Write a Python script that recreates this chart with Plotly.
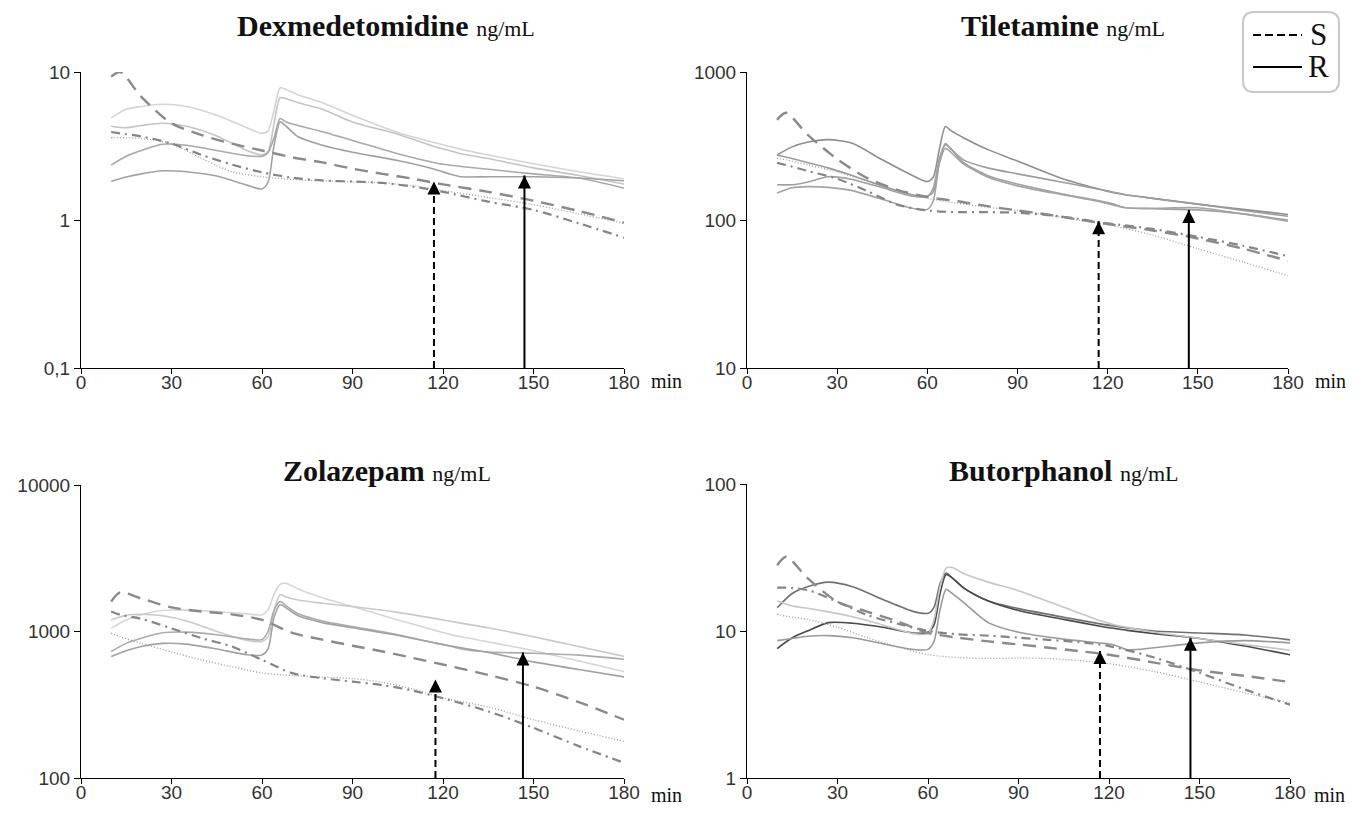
import numpy as np
import plotly.graph_objects as go

W, H = 1372, 813
BODY = 8  # page body margin in the browser

# ---------------- data ----------------
T_S = [10, 13, 20, 30, 40, 50, 60, 70, 80, 90, 100, 110, 120, 135, 150, 165, 180]
T_R = [10, 15, 20, 27, 35, 45, 55, 60, 62, 64, 66, 68, 72, 80, 90, 105, 118, 122, 126, 135, 150, 165, 180]

# Dexmedetomidine
dex_dashed = [9.3, 10.0, 6.8, 4.5, 3.75, 3.28, 2.95, 2.65, 2.45, 2.22, 2.05, 1.9, 1.74, 1.55, 1.35, 1.15, 0.96]
dex_dotted = [3.6, 3.6, 3.55, 3.28, 2.6, 2.12, 1.96, 1.88, 1.84, 1.81, 1.78, 1.7, 1.58, 1.42, 1.27, 1.1, 0.95]
dex_dashdot = [3.93, 3.85, 3.67, 3.28, 2.75, 2.37, 2.1, 1.93, 1.85, 1.82, 1.78, 1.68, 1.55, 1.33, 1.17, 0.95, 0.76]
dex_r1 = [4.9, 5.6, 5.85, 6.05, 5.85, 5.1, 4.2, 3.85, 4.0, 5.5, 7.8, 7.6, 7.0, 6.2, 5.1, 3.9, 3.3, 3.15, 3.0, 2.75, 2.4, 2.12, 1.9]
dex_r2 = [4.3, 4.2, 4.35, 4.5, 4.3, 3.7, 2.95, 2.75, 2.9, 4.5, 6.7, 6.6, 6.2, 5.6, 4.6, 3.8, 3.1, 2.95, 2.8, 2.6, 2.25, 2.0, 1.75]
dex_r3 = [2.35, 2.7, 2.95, 3.25, 3.2, 2.95, 2.72, 2.7, 2.85, 3.6, 4.85, 4.6, 4.35, 3.95, 3.45, 2.8, 2.42, 2.35, 2.3, 2.2, 2.05, 1.92, 1.64]
dex_r4 = [1.82, 1.95, 2.05, 2.15, 2.12, 1.98, 1.72, 1.62, 1.8, 3.2, 4.6, 4.3, 3.65, 3.2, 2.87, 2.52, 2.18, 2.05, 1.96, 1.96, 1.96, 1.92, 1.84]

# Tiletamine
til_dashed = [475, 530, 380, 258, 192, 160, 143, 134, 124, 116, 109, 101, 94, 85, 75, 64, 53]
til_dotted = [261, 255, 236, 212, 182, 158, 140, 130, 122, 116, 108, 100, 93, 79, 64, 52, 42]
til_dashdot = [243, 235, 215, 190, 157, 127, 116, 113, 113, 112, 108, 102, 95, 87, 77, 67, 57]
til_r1 = [275, 312, 335, 349, 330, 255, 200, 182, 195, 300, 428, 400, 360, 300, 250, 190, 160, 153, 148, 140, 128, 118, 109]
til_r2 = [275, 260, 245, 225, 200, 170, 148, 145, 155, 250, 328, 300, 255, 225, 205, 180, 160, 154, 148, 140, 128, 116, 106]
til_r3 = [173, 173, 180, 196, 188, 165, 145, 144, 165, 260, 322, 300, 245, 200, 175, 150, 134, 128, 121, 119, 117, 110, 100]
til_r4 = [152, 165, 168, 166, 158, 138, 120, 118, 135, 240, 305, 285, 240, 195, 170, 148, 132, 126, 121, 120, 121, 110, 98]

# Zolazepam
zol_dashed = [1600, 1850, 1680, 1460, 1370, 1310, 1200, 980, 880, 800, 730, 660, 595, 505, 420, 330, 250]
zol_dotted = [975, 920, 830, 725, 640, 575, 522, 500, 488, 477, 450, 405, 352, 305, 250, 210, 178]
zol_dashdot = [1370, 1300, 1220, 1050, 900, 790, 640, 520, 480, 455, 430, 395, 350, 285, 220, 165, 127]
zol_r1 = [1055, 1200, 1300, 1390, 1400, 1370, 1320, 1300, 1400, 1800, 2100, 2130, 1950, 1700, 1480, 1200, 1010, 960, 920, 850, 740, 630, 533]
zol_r2 = [1200, 1290, 1310, 1280, 1180, 1000, 870, 855, 920, 1400, 1780, 1720, 1640, 1560, 1480, 1350, 1220, 1180, 1140, 1060, 920, 790, 676]
zol_r3 = [731, 830, 900, 980, 990, 950, 890, 880, 1000, 1400, 1600, 1500, 1320, 1180, 1080, 950, 830, 800, 760, 725, 710, 690, 646]
zol_r4 = [676, 740, 790, 830, 820, 760, 695, 690, 760, 1250, 1520, 1450, 1280, 1150, 1060, 940, 830, 800, 775, 720, 620, 550, 490]

# Butorphanol
but_dashed = [28, 32, 23, 15.8, 13.5, 11.6, 9.7, 9.0, 8.5, 8.1, 7.7, 7.3, 6.9, 6.1, 5.4, 4.95, 4.5]
but_dotted = [13, 12.6, 12.0, 10.6, 9.0, 7.8, 6.9, 6.6, 6.5, 6.55, 6.5, 6.3, 6.0, 5.3, 4.5, 3.8, 3.23]
but_dashdot = [19.7, 19.7, 19.0, 15.8, 12.8, 11.2, 10.0, 9.5, 9.3, 9.0, 8.7, 8.4, 7.9, 6.6, 5.2, 4.0, 3.15]
but_r1 = [14.4, 18, 20, 21.5, 20, 16.4, 13.6, 13.2, 14.5, 21, 24.8, 23, 19.5, 16, 14.2, 12.4, 11.1, 10.8, 10.5, 10.0, 9.7, 9.4, 8.7]
but_r2 = [7.6, 9.0, 10.0, 11.4, 11.3, 10.6, 9.7, 9.8, 11.0, 18, 24.2, 23, 19.5, 16, 13.8, 12.0, 10.7, 10.4, 10.1, 9.6, 8.9, 7.9, 6.9]
but_r3 = [16, 14.8, 14.3, 13.5, 12.5, 11.0, 9.6, 9.6, 12, 20, 26.8, 27, 24.5, 21.5, 18.8, 14.5, 11.6, 11.0, 10.6, 9.8, 8.9, 8.1, 7.4]
but_r4 = [8.6, 8.9, 9.2, 9.3, 9.0, 8.2, 7.5, 7.5, 8.5, 14, 19.2, 18, 15.5, 11.4, 9.8, 8.8, 8.25, 8.0, 7.45, 7.7, 8.3, 8.6, 8.3]

# arrows (time, tip value) : S (dashed) and R (solid)
ARROW_S_T = [117, 117, 117.5, 117]
ARROW_S_TIP = [1.82, 98, 470, 7.3]
ARROW_R_T = [147, 147, 146.5, 147]
ARROW_R_TIP = [2.0, 117, 720, 9.0]

TITLES = ["Dexmedetomidine", "Tiletamine", "Zolazepam", "Butorphanol"]
Y_TICKVALS = [[0.1, 1, 10], [10, 100, 1000], [100, 1000, 10000], [1, 10, 100]]
Y_TICKTEXT = [["0,1", "1", "10"], ["10", "100", "1000"], ["100", "1000", "10000"], ["1", "10", "100"]]
X_TICKS = [0, 30, 60, 90, 120, 150, 180]

# ---------------- layout geometry (window pixels) ----------------
FW, FH = W - 2 * BODY, H - 2 * BODY

def px(x):
    return (x - BODY) / FW

def py(y):
    return 1 - (y - BODY) / FH

PANELS = [
    dict(x0=81, x1=624, ytop=72, ybot=368),
    dict(x0=747, x1=1288, ytop=72, ybot=368),
    dict(x0=81, x1=624, ytop=485, ybot=778),
    dict(x0=747, x1=1290, ytop=484, ybot=778),
]
TITLE_POS = [(386, 26), (1063, 26), (387, 470), (1064, 470)]
MIN_POS = [(666, 381), (1330, 381), (666, 795), (1329, 795)]

series = [
    (dex_dashed, dex_dotted, dex_dashdot, [dex_r1, dex_r2, dex_r3, dex_r4]),
    (til_dashed, til_dotted, til_dashdot, [til_r1, til_r2, til_r3, til_r4]),
    (zol_dashed, zol_dotted, zol_dashdot, [zol_r1, zol_r2, zol_r3, zol_r4]),
    (but_dashed, but_dotted, but_dashdot, [but_r1, but_r2, but_r3, but_r4]),
]
SOLID_COLORS = [
    ["#d4d4d4", "#c4c4c4", "#a9a9a9", "#a2a2a2"],
    ["#8e8e8e", "#9c9c9c", "#a0a0a0", "#a4a4a4"],
    ["#d6d6d6", "#c9c9c9", "#ababab", "#a2a2a2"],
    ["#707070", "#4a4a4a", "#c6c6c6", "#9a9a9a"],
]

fig = go.Figure()
annotations = []
TICK_FONT = dict(family="Liberation Sans Narrow, Arial Narrow, Liberation Sans, Arial", size=19, color="#333")
SERIF = "Liberation Serif, Times New Roman, serif"

for i, p in enumerate(PANELS):
    n = "" if i == 0 else str(i + 1)
    xa, ya = "x" + n, "y" + n
    dashed, dotted, dashdot, solids = series[i]
    # R solid lines
    for k, s in enumerate(solids):
        fig.add_trace(go.Scatter(x=T_R, y=s, mode="lines", xaxis=xa, yaxis=ya,
                                 line=dict(color=SOLID_COLORS[i][k], width=1.6, shape="spline", smoothing=0.7),
                                 showlegend=False, hoverinfo="skip"))
    fig.add_trace(go.Scatter(x=T_S, y=dotted, mode="lines", xaxis=xa, yaxis=ya,
                             line=dict(color="#9a9a9a", width=1.3, dash="1px,2px", shape="spline", smoothing=0.8),
                             showlegend=False, hoverinfo="skip"))
    fig.add_trace(go.Scatter(x=T_S, y=dashdot, mode="lines", xaxis=xa, yaxis=ya,
                             line=dict(color="#858585", width=2.2, dash="9px,5px,2px,5px", shape="spline", smoothing=0.8),
                             showlegend=False, hoverinfo="skip"))
    fig.add_trace(go.Scatter(x=T_S, y=dashed, mode="lines", xaxis=xa, yaxis=ya,
                             line=dict(color="#8a8a8a", width=2.4, dash="13px,8px", shape="spline", smoothing=0.8),
                             showlegend=False, hoverinfo="skip"))
    # arrows shafts
    ymin = Y_TICKVALS[i][0]
    fig.add_trace(go.Scatter(x=[ARROW_S_T[i], ARROW_S_T[i]], y=[ymin, ARROW_S_TIP[i]], mode="lines",
                             xaxis=xa, yaxis=ya, line=dict(color="black", width=2, dash="7px,4px"),
                             showlegend=False, hoverinfo="skip", cliponaxis=False))
    fig.add_trace(go.Scatter(x=[ARROW_R_T[i], ARROW_R_T[i]], y=[ymin, ARROW_R_TIP[i]], mode="lines",
                             xaxis=xa, yaxis=ya, line=dict(color="black", width=2),
                             showlegend=False, hoverinfo="skip", cliponaxis=False))
    for t, tip in ((ARROW_S_T[i], ARROW_S_TIP[i]), (ARROW_R_T[i], ARROW_R_TIP[i])):
        annotations.append(dict(x=t, y=np.log10(tip), xref=xa, yref=ya, text="", showarrow=True,
                                ax=0, ay=13, arrowhead=2, arrowsize=1.3, arrowwidth=2, arrowcolor="black",
                                standoff=0))
    # axes
    lo, hi = np.log10(Y_TICKVALS[i][0]), np.log10(Y_TICKVALS[i][-1])
    fig.update_layout(**{
        ("xaxis" + n): dict(domain=[px(p["x0"]), px(p["x1"])], range=[0, 180], anchor=ya,
                            tickvals=X_TICKS, ticks="outside", ticklen=5, tickcolor="black",
                            showline=True, linecolor="black", linewidth=1, showgrid=False, zeroline=False,
                            tickfont=TICK_FONT, fixedrange=True, automargin=False, ticklabelstandoff=-8),
        ("yaxis" + n): dict(domain=[py(p["ybot"]), py(p["ytop"])], type="log", range=[lo, hi], anchor=xa,
                            tickvals=Y_TICKVALS[i], ticktext=Y_TICKTEXT[i], ticks="outside", ticklen=6,
                            tickcolor="black", showline=True, linecolor="black", linewidth=1,
                            showgrid=False, zeroline=False, tickfont=TICK_FONT, fixedrange=True,
                            automargin=False),
    })
    # title
    tx, ty = TITLE_POS[i]
    annotations.append(dict(x=px(tx), y=py(ty), xref="paper", yref="paper", showarrow=False,
                            text="<b>" + TITLES[i] + "</b> <span style='font-size:22px'>ng/mL</span>",
                            font=dict(family=SERIF, size=30, color="#111"), xanchor="center", yanchor="middle"))
    mx, my = MIN_POS[i]
    annotations.append(dict(x=px(mx), y=py(my), xref="paper", yref="paper", showarrow=False, text="min",
                            font=dict(family=SERIF, size=20, color="#111"), xanchor="center", yanchor="middle",
                            height=18, borderpad=0))

# legend box
bx0, bx1, by0, by1, r = 1243, 1339, 12, 92, 11
path = (f"M {px(bx0 + r)},{py(by0)} L {px(bx1 - r)},{py(by0)} Q {px(bx1)},{py(by0)} {px(bx1)},{py(by0 + r)} "
        f"L {px(bx1)},{py(by1 - r)} Q {px(bx1)},{py(by1)} {px(bx1 - r)},{py(by1)} "
        f"L {px(bx0 + r)},{py(by1)} Q {px(bx0)},{py(by1)} {px(bx0)},{py(by1 - r)} "
        f"L {px(bx0)},{py(by0 + r)} Q {px(bx0)},{py(by0)} {px(bx0 + r)},{py(by0)} Z")
shapes = [
    dict(type="path", path=path, xref="paper", yref="paper", line=dict(color="#c8c8c8", width=2), fillcolor="white"),
    dict(type="line", xref="paper", yref="paper", x0=px(1253), x1=px(1302), y0=py(35), y1=py(35),
         line=dict(color="black", width=2, dash="8px,4px")),
    dict(type="line", xref="paper", yref="paper", x0=px(1253), x1=px(1302), y0=py(67), y1=py(67),
         line=dict(color="black", width=2)),
]
annotations.append(dict(x=px(1318), y=py(34), xref="paper", yref="paper", showarrow=False, text="S",
                        font=dict(family=SERIF, size=31, color="#111"), xanchor="center", yanchor="middle"))
annotations.append(dict(x=px(1318), y=py(66), xref="paper", yref="paper", showarrow=False, text="R",
                        font=dict(family=SERIF, size=31, color="#111"), xanchor="center", yanchor="middle"))

fig.update_layout(width=FW, height=FH, margin=dict(l=0, r=0, t=0, b=0), paper_bgcolor="white",
                  plot_bgcolor="white", showlegend=False, annotations=annotations, shapes=shapes)
fig.write_html("out.html")
